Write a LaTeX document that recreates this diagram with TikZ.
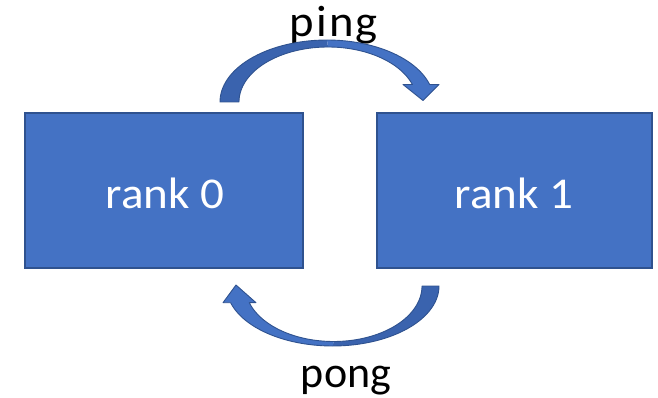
\documentclass[tikz,border=0pt]{standalone}
\usepackage{fontspec}
\setmainfont{Carlito}
\definecolor{boxfill}{HTML}{4472C4}
\definecolor{boxline}{HTML}{2F528F}
\definecolor{arrdark}{HTML}{3A63AE}
\begin{document}
\begin{tikzpicture}[x=1pt,y=-1pt,
  rankbox/.style={draw=boxline,line width=1.6pt,fill=boxfill,inner sep=0pt},
  ranktext/.style={text=white,font=\fontsize{44}{50}\selectfont,anchor=base},
  lbl/.style={text=black,font=\fontsize{44}{50}\selectfont,anchor=base},
  arrlight/.style={fill=boxfill,draw=none},
  arrdk/.style={fill=arrdark,draw=none},
  arredge/.style={draw=boxline,line width=0.9pt,line join=round}]
\useasboundingbox (0,0) rectangle (658,398);
% boxes
\node[rankbox,minimum width=278pt,minimum height=155pt] (r0) at (164,190.5) {};
\node[rankbox,minimum width=275pt,minimum height=155pt] (r1) at (514.5,190.5) {};
\node[ranktext] (t0) at (165,208) {\scalebox{1.07}[1]{rank 0}};
\node[ranktext] (t1) at (514,208) {\scalebox{1.07}[1]{rank 1}};
% labels
\node[lbl] (ping) at (333.5,37) {\scalebox{1.06}[1]{p\kern2.5pt i\kern2.5pt n\kern1pt g}};
\node[lbl] (pong) at (346,387) {pong};
% top curved arrow (ping)
\fill[arrdk] plot[domain=180:90,samples=40] ({327+107*cos(\x)},{102-62*sin(\x)})
  -- plot[domain=90:180,samples=40] ({328+89*cos(\x)},{102-55*sin(\x)}) -- cycle;
\fill[arrlight] plot[domain=90:16.4,samples=40] ({327+107*cos(\x)},{102-62*sin(\x)})
  -- (439,84.5) -- (423,100.5) -- (403,84.5)
  -- plot[domain=18.55:90,samples=40] ({328+89*cos(\x)},{102-55*sin(\x)}) -- cycle;
\draw[arredge] plot[domain=180:16.4,samples=80] ({327+107*cos(\x)},{102-62*sin(\x)})
  -- (439,84.5) -- (423,100.5) -- (403,84.5)
  -- plot[domain=18.55:180,samples=80] ({328+89*cos(\x)},{102-55*sin(\x)}) -- cycle;
% bottom curved arrow (pong)
\fill[arrdk] plot[domain=0:-90,samples=40] ({332.7+106.3*cos(\x)},{286-60*sin(\x)})
  -- plot[domain=-90:0,samples=40] ({333.6+88.4*cos(\x)},{286-55.5*sin(\x)}) -- cycle;
\fill[arrlight] plot[domain=-90:-163.8,samples=40] ({332.7+106.3*cos(\x)},{286-60*sin(\x)})
  -- (223,302.7) -- (236,285) -- (256,302.7)
  -- plot[domain=-162.5:-90,samples=40] ({333.6+88.4*cos(\x)},{286-55.5*sin(\x)}) -- cycle;
\draw[arredge] plot[domain=0:-163.8,samples=80] ({332.7+106.3*cos(\x)},{286-60*sin(\x)})
  -- (223,302.7) -- (236,285) -- (256,302.7)
  -- plot[domain=-162.5:0,samples=80] ({333.6+88.4*cos(\x)},{286-55.5*sin(\x)}) -- cycle;
\end{tikzpicture}
\end{document}
